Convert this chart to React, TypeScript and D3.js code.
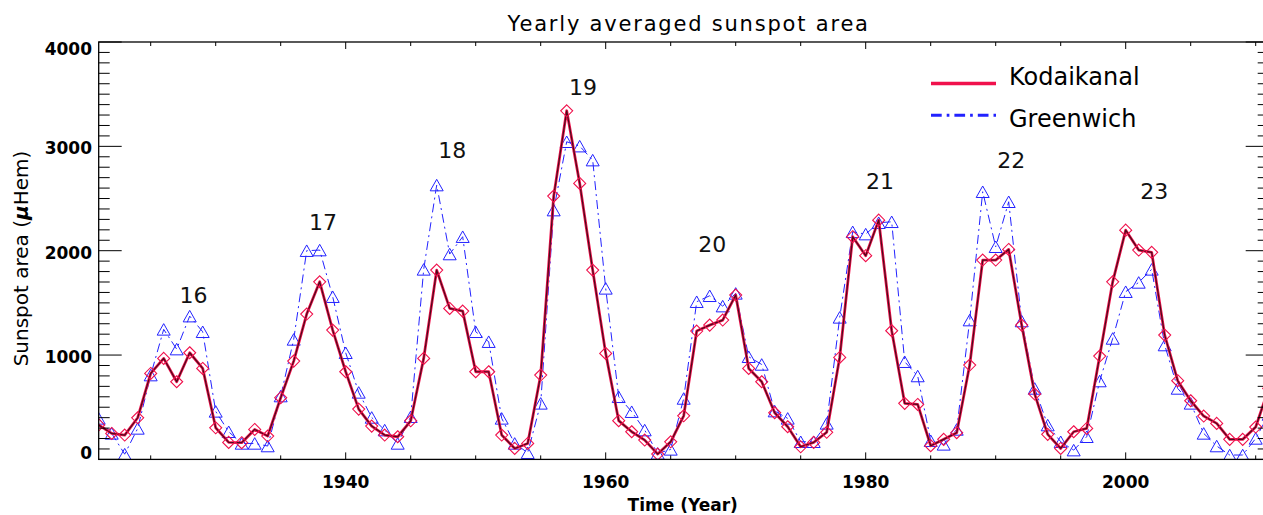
import React from "react";
import * as d3 from "d3";

// Yearly averaged sunspot area, 1921-2011 (micro-hemispheres)
const years: number[] = d3.range(1921, 2012);

const kodaikanal: number[] = [
  330, 249, 233, 399, 824, 968, 744, 1022, 872, 303,
  163, 160, 287, 224, 591, 942, 1393, 1702, 1239, 840,
  482, 319, 233, 217, 370, 968, 1814, 1447, 1421, 840,
  840, 233, 105, 153, 808, 2523, 3341, 2645, 1814, 1016,
  371, 265, 185, 51, 169, 418, 1230, 1287, 1335, 1575,
  872, 744, 447, 313, 121, 163, 260, 977, 2134, 1952,
  2293, 1233, 537, 527, 131, 192, 256, 904, 1910, 1910,
  2012, 1287, 626, 240, 105, 265, 297, 990, 1702, 2197,
  2006, 1984, 1191, 754, 562, 415, 345, 192, 192, 310,
  680,
];

const greenwich: number[] = [
  393, 249, 50, 297, 808, 1246, 1057, 1373, 1223, 460,
  265, 153, 153, 128, 607, 1150, 2000, 2006, 1559, 1022,
  642, 402, 281, 153, 409, 1821, 2629, 1968, 2134, 1223,
  1128, 393, 153, 64, 537, 2389, 3044, 3002, 2868, 1639,
  600, 457, 281, 57, 96, 584, 1511, 1568, 1469, 1591,
  984, 910, 463, 393, 169, 169, 345, 1361, 2181, 2159,
  2268, 2277, 936, 799, 179, 144, 287, 1335, 2565, 2038,
  2469, 1326, 680, 329, 169, 89, 217, 751, 1159, 1607,
  1696, 1821, 1096, 680, 537, 249, 128, 42, 42, 201,
  430,
];

// Solar cycle numbers, placed in data coordinates (year, area)
const cycleNames: string[] = ["16", "17", "18", "19", "20", "21", "22", "23"];
const cycleYears: number[] = [1928.3, 1938.25, 1948.2, 1958.25, 1968.2, 1981.1, 1991.2, 2002.2];
const cycleAreas: number[] = [1500, 2200, 2890, 3490, 1990, 2590, 2795, 2495];

const yTickValues: number[] = [0, 1000, 2000, 3000, 4000];
const xTickValues: number[] = [1940, 1960, 1980, 2000];

const seriesNames: string[] = ["Kodaikanal", "Greenwich"];

const W = 1263;
const H = 515;
const left = 98.7;
const right = 1268.7;
const top = 42;
const bottom = 459.4;

const RED = "#f0114c";
const RED_CORE = "#4a0c1c";
const BLUE = "#2222ff";
const FONT = "'DejaVu Sans', sans-serif";

export default function App() {
  const x = d3.scaleLinear().domain([1921, 2011]).range([left, right]);
  const y = d3.scaleLinear().domain([0, 4000]).range([bottom, top]);

  const line = d3
    .line<number>()
    .x((_, i) => x(years[i]))
    .y((v) => y(v));

  const kPath = line(kodaikanal) || "";
  const gPath = line(greenwich) || "";

  const yMinor = d3.range(0, 4001, 100);
  const xMinor = d3.range(1925, 2011, 5);

  const diamond = (cx: number, cy: number, r: number) =>
    `M${cx},${cy - r}L${cx + r},${cy}L${cx},${cy + r}L${cx - r},${cy}Z`;
  const triangle = (cx: number, cy: number, w: number, h: number) =>
    `M${cx},${cy - h / 2}L${cx + w / 2},${cy + h / 2}L${cx - w / 2},${cy + h / 2}Z`;

  return (
    <svg
      width={W}
      height={H}
      style={{ position: "absolute", left: 0, top: 0, background: "#fff" }}
      fontFamily={FONT}
    >
      <defs>
        <clipPath id="plotArea">
          <rect x={left} y={top} width={right - left} height={bottom - top} />
        </clipPath>
      </defs>
      <rect x={0} y={0} width={W} height={H} fill="#fff" />

      {/* Title */}
      <text
        x={(left + right) / 2 + 5}
        y={31}
        textAnchor="middle"
        fontSize={21}
        letterSpacing={1.8}
        fill="#000"
      >
        Yearly averaged sunspot area
      </text>

      {/* Data */}
      <g clipPath="url(#plotArea)">
        <path
          d={gPath}
          fill="none"
          stroke={BLUE}
          strokeWidth={1}
          strokeDasharray="9,4,2,4"
        />
        {greenwich.map((v, i) => (
          <path
            key={"g" + i}
            d={triangle(x(years[i]), y(v), 13, 11.5)}
            fill="none"
            stroke={BLUE}
            strokeWidth={1}
          />
        ))}
        <path d={kPath} fill="none" stroke={RED} strokeWidth={2.8} strokeLinejoin="round" />
        <path d={kPath} fill="none" stroke={RED_CORE} strokeWidth={1.2} strokeLinejoin="round" />
        {kodaikanal.map((v, i) => (
          <path
            key={"k" + i}
            d={diamond(x(years[i]), y(v), 6)}
            fill="none"
            stroke={RED}
            strokeWidth={1.1}
          />
        ))}
      </g>

      {/* Cycle numbers */}
      {cycleNames.map((c, i) => (
        <text
          key={"c" + c}
          x={x(cycleYears[i])}
          y={y(cycleAreas[i])}
          textAnchor="middle"
          fontSize={22}
          fill="#111"
        >
          {c}
        </text>
      ))}

      {/* Axes box */}
      <rect
        x={left}
        y={top}
        width={right - left}
        height={bottom - top}
        fill="none"
        stroke="#000"
        strokeWidth={1.3}
      />

      {/* Y ticks */}
      {yMinor.map((v) => {
        const major = v % 1000 === 0;
        const len = major ? 23 : 11;
        return (
          <g key={"yt" + v} stroke="#000" strokeWidth={1}>
            <line x1={left} x2={left + len} y1={y(v)} y2={y(v)} />
            <line x1={right} x2={right - len} y1={y(v)} y2={y(v)} />
          </g>
        );
      })}
      {yTickValues.map((v) => (
        <text
          key={"yl" + v}
          x={92}
          y={Math.min(453, Math.max(49, y(v) + 2))}
          textAnchor="end"
          dominantBaseline="central"
          fontSize={17}
          fontWeight="bold"
          fill="#000"
        >
          {v}
        </text>
      ))}

      {/* X ticks */}
      {xMinor.map((yr) => {
        const major = yr % 20 === 0;
        const len = major ? 7 : 4;
        return (
          <g key={"xt" + yr} stroke="#000" strokeWidth={1}>
            <line x1={x(yr)} x2={x(yr)} y1={bottom} y2={bottom - len} />
            <line x1={x(yr)} x2={x(yr)} y1={top} y2={top + len} />
          </g>
        );
      })}
      {xTickValues.map((yr) => (
        <text
          key={"xl" + yr}
          x={x(yr)}
          y={488}
          textAnchor="middle"
          fontSize={17}
          fontWeight="bold"
          fill="#000"
        >
          {yr}
        </text>
      ))}

      {/* Axis titles */}
      <text
        x={(left + right) / 2 - 1}
        y={511}
        textAnchor="middle"
        fontSize={17}
        fontWeight="bold"
        fill="#000"
      >
        Time (Year)
      </text>
      <text
        transform="translate(27.5,258.5) rotate(-90)"
        textAnchor="middle"
        fontSize={20}
        fill="#000"
      >
        Sunspot area (
        <tspan fontStyle="italic" fontWeight="bold">
          μ
        </tspan>
        Hem)
      </text>

      {/* Legend */}
      <line x1={931} x2={996} y1={83.5} y2={83.5} stroke={RED} strokeWidth={3.4} />
      <text x={1009} y={85} fontSize={24} fill="#000">
        {seriesNames[0]}
      </text>
      <line
        x1={931}
        x2={996}
        y1={115.3}
        y2={115.3}
        stroke={BLUE}
        strokeWidth={3}
        strokeDasharray="10.7,5,2.7,5"
      />
      <text x={1009} y={126.5} fontSize={24} fill="#000">
        {seriesNames[1]}
      </text>
    </svg>
  );
}
